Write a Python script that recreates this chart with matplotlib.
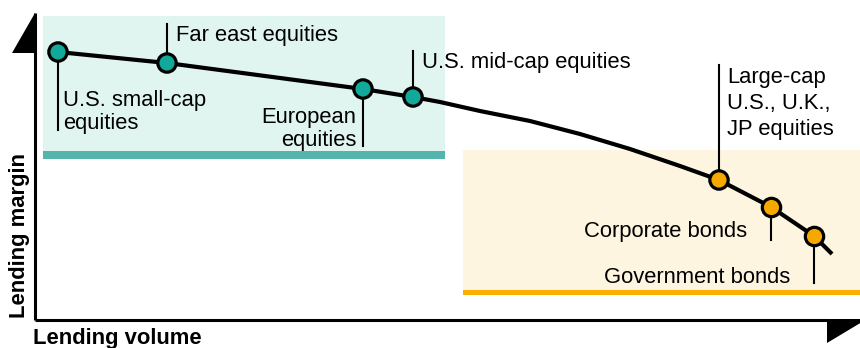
import matplotlib.pyplot as plt
from matplotlib.patches import Polygon, Rectangle

plt.rcParams["font.family"] = ["Liberation Sans", "DejaVu Sans"]

# curve (volume to the right, margin upwards)
curve_volume = [23, 132, 328, 378, 405, 445, 495, 545, 595, 645, 684,
                736, 779, 797]
curve_margin = [268, 257, 231, 223, 218, 209, 199, 186, 171, 154, 140,
                113, 84, 66]

# asset classes sitting on the curve
equity_names = ["U.S. small-cap\nequities", "Far east equities",
                "European\nequities", "U.S. mid-cap equities",
                "Large-cap\nU.S., U.K.,\nJP equities"]
equity_volume = [23, 132, 328, 378, 684]
equity_margin = [268, 257, 231, 223, 140]
equity_colors = ["#12a89a", "#12a89a", "#12a89a", "#12a89a", "#f5a800"]

bond_names = ["Corporate bonds", "Government bonds"]
bond_volume = [736, 779]
bond_margin = [113, 84]


def main():
    fig = plt.figure(figsize=(8.6, 3.48), dpi=100)
    ax = fig.add_axes([0, 0, 1, 1])
    ax.set_xlim(-35, 825)
    ax.set_ylim(-28, 320)
    ax.axis("off")

    # shaded groups
    ax.add_patch(Rectangle((8, 169), 402, 135, color="#e0f5ef", lw=0, zorder=0))
    ax.add_patch(Rectangle((8, 161), 402, 8, color="#55b5ad", lw=0, zorder=1))
    ax.add_patch(Rectangle((428, 30), 400, 140, color="#fdf5e0", lw=0, zorder=0))
    ax.add_patch(Rectangle((428, 25), 400, 5, color="#fbb000", lw=0, zorder=1))

    # hand drawn axes with arrow heads
    ax.plot([0, 0], [0, 307], color="black", lw=2.2, zorder=2,
            solid_capstyle="butt")
    ax.plot([0, 792], [0, 0], color="black", lw=2.2, zorder=2,
            solid_capstyle="butt")
    ax.add_patch(Polygon([(0, 307), (0, 267), (-23, 267)], closed=True,
                         color="black", lw=0, zorder=2))
    ax.add_patch(Polygon([(792, 1), (832, 1), (792, -23)], closed=True,
                         color="black", lw=0, zorder=2))

    ax.text(-2, -24, "Lending volume", fontsize=15.8, fontweight="bold",
            ha="left", va="baseline")
    ax.text(-10, 2, "Lending margin", fontsize=15.8, fontweight="bold",
            rotation=90, rotation_mode="anchor", ha="left", va="baseline")

    # leader lines
    leaders = [(23, 190), (132, 296), (328, 174), (378, 269), (684, 255)]
    for (v, end), m in zip(leaders, equity_margin):
        ax.plot([v, v], [m, end], color="black", lw=1.5, zorder=3)
    for v, m, end in zip(bond_volume, bond_margin, [80, 37]):
        ax.plot([v, v], [m, end], color="black", lw=1.5, zorder=3)

    ax.plot(curve_volume, curve_margin, color="black", lw=3, zorder=4,
            solid_joinstyle="round", solid_capstyle="butt")

    ax.scatter(equity_volume, equity_margin, s=175, c=equity_colors,
               edgecolors="black", linewidths=2.3, zorder=5)
    ax.scatter(bond_volume, bond_margin, s=175, c="#f5a800",
               edgecolors="black", linewidths=2.3, zorder=5)

    fs = 15.8
    ax.text(28, 230, equity_names[0], fontsize=fs, ha="left", va="top",
            linespacing=1.15)
    ax.text(141, 279, equity_names[1], fontsize=fs, ha="left", va="baseline")
    ax.text(321, 213, equity_names[2], fontsize=fs, ha="right", va="top",
            linespacing=1.15)
    ax.text(387, 252, equity_names[3], fontsize=fs, ha="left", va="baseline")
    ax.text(692, 253, equity_names[4], fontsize=fs, ha="left", va="top",
            linespacing=1.3)
    ax.text(712, 83, bond_names[0], fontsize=fs, ha="right", va="baseline")
    ax.text(755, 37, bond_names[1], fontsize=fs, ha="right", va="baseline")

    fig.savefig("out.png", dpi=100)


if __name__ == "__main__":
    main()
